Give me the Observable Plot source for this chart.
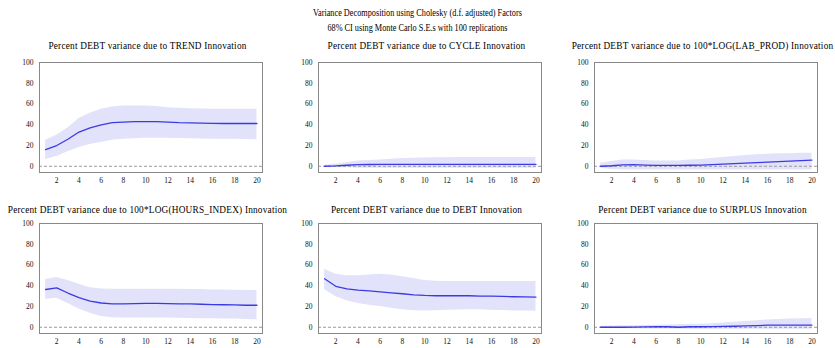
<!DOCTYPE html>
<html>
<head>
<meta charset="utf-8">
<script src="https://cdn.jsdelivr.net/npm/d3@7"></script>
<script src="https://cdn.jsdelivr.net/npm/@observablehq/plot@0.6"></script>
<style>
  html, body { margin: 0; padding: 0; background: #fff; }
  #root { position: relative; width: 835px; height: 348px; overflow: hidden; font-family: "Liberation Serif", "DejaVu Serif", serif; color: #000; }
  .title { position: absolute; left: 0; width: 835px; text-align: center; font-size: 9.4px; white-space: nowrap; transform: scaleX(0.88); transform-origin: 417px 0; }
  .ptitle { position: absolute; white-space: nowrap; font-size: 9.3px; transform: translateX(-50%); letter-spacing: 0.2px; }
  .panel { position: absolute; }
</style>
</head>
<body>
<div id="root"></div>
<script>
const periods = [1,2,3,4,5,6,7,8,9,10,11,12,13,14,15,16,17,18,19,20];
const yTicks = [0,20,40,60,80,100];
const xTicks = [2,4,6,8,10,12,14,16,18,20];

const titles = [
  "Percent DEBT variance due to TREND Innovation",
  "Percent DEBT variance due to CYCLE Innovation",
  "Percent DEBT variance due to 100*LOG(LAB_PROD) Innovation",
  "Percent DEBT variance due to 100*LOG(HOURS_INDEX) Innovation",
  "Percent DEBT variance due to DEBT Innovation",
  "Percent DEBT variance due to SURPLUS Innovation"
];

const trend   = [16,20,26,33,37,40,42,42.5,43,43,43,42.5,42,41.8,41.5,41.3,41.2,41.2,41.2,41.2];
const trendHi = [25,30,37,46,51,55,57,58,58,58,57.5,56.5,56,55.5,55.2,55,55,55,55,55];
const trendLo = [6.5,9.5,14,18,21,23,25,26,26.5,27,27,27,26.8,26.5,26.3,26,26,26,25.8,25.5];

const cycle   = [0,0.3,1,1.5,1.7,1.8,1.8,1.8,1.8,1.8,1.8,1.8,1.8,1.8,1.8,1.8,1.8,1.8,1.8,1.8];
const cycleHi = [1,2,3.5,5,5.5,6,6.8,7.5,7.8,8,8.2,8.3,8.4,8.5,8.5,8.5,8.5,8.5,8.5,8.5];
const cycleLo = [-1,-1.3,-1.5,-1.8,-2,-2,-2,-2,-2,-2,-2,-2,-2,-2,-2,-2,-2,-2,-2,-2];

const labProd   = [0,0.5,1.3,1.5,1.1,0.8,0.8,0.8,1,1.2,1.5,2,2.5,3,3.5,4,4.5,5,5.5,6];
const labProdHi = [3,4.5,6,6,5.5,5,5,5.2,6,6.5,7.5,8.5,9.5,10.5,11,11.5,12,12,12.5,12.5];
const labProdLo = [-2,-3,-3.5,-3.5,-3.5,-3.5,-3.5,-3.5,-3.5,-3.5,-3.5,-3.5,-3.5,-3.5,-3.5,-3.5,-3.5,-3.5,-3.5,-3.5];

const hours   = [36.4,38,33,28.5,25.3,23.4,22.5,22.5,22.8,23,23,22.8,22.5,22.5,22.2,21.8,21.7,21.5,21.2,21.2];
const hoursHi = [46,48,45,41.5,38,37,36.7,36.7,36.7,36.7,36.7,36.7,36.6,36.5,36.3,36,35.8,35.7,35.5,35.5];
const hoursLo = [27,28,23,17.7,13.6,10.4,9.2,8.9,8.9,8.9,8.9,8.9,8.7,8.5,8.3,8.2,8,7.9,7.6,7.3];

const debt   = [46.8,39.5,37,35.8,35,34.2,33.2,32.3,31.3,30.7,30.4,30.4,30.4,30.4,30,30,29.7,29.4,29.3,29];
const debtHi = [56,51,49.7,49.7,50.3,51,50.3,48.7,47,45,44.3,44,44,44,44,44,44,44,44,44];
const debtLo = [36.4,29.4,25.6,23,21.2,20,18.4,16.8,16,15.8,16,16.5,16.7,16.8,16.8,16.5,16.2,15.8,15.6,15.5];

const surplus   = [0,0,0,0.2,0.3,0.6,0.5,0,0.5,0.5,0.6,0.8,1,1.3,1.6,2,2,2,2,2];
const surplusHi = [1,1.2,1.4,1.5,1.8,2,2.2,2.5,2.8,3,3.5,4,4.8,5.5,6.3,7,7.5,8,8.3,8.5];
const surplusLo = [-1,-1.2,-1.4,-1.5,-1.6,-1.6,-1.7,-2,-1.8,-1.8,-1.8,-1.8,-1.8,-1.8,-1.8,-1.8,-1.8,-1.8,-1.8,-1.8];

const series = [
  [trend, trendLo, trendHi],
  [cycle, cycleLo, cycleHi],
  [labProd, labProdLo, labProdHi],
  [hours, hoursLo, hoursHi],
  [debt, debtLo, debtHi],
  [surplus, surplusLo, surplusHi]
];

const root = document.getElementById("root");

function addDiv(cls, text, style) {
  const d = document.createElement("div");
  d.className = cls;
  d.textContent = text;
  Object.assign(d.style, style);
  root.appendChild(d);
  return d;
}

addDiv("title", "Variance Decomposition using Cholesky (d.f. adjusted) Factors", {top: "8px"});
addDiv("title", "68% CI using Monte Carlo S.E.s with 100 replications", {top: "23px"});

const colLeft = [0, 279, 555];
const rowTop = [58, 219];
const titleTop = [41, 205];
const mL = 39, mR = 8, mT = 4, mB = 16, W = 270, H = 130;

series.forEach(([v, lo, hi], i) => {
  const r = Math.floor(i / 3), c = i % 3;
  const data = periods.map((p, k) => ({p, v: v[k], lo: lo[k], hi: hi[k]}));
  const chart = Plot.plot({
    width: W, height: H,
    marginLeft: mL, marginRight: mR, marginTop: mT, marginBottom: mB,
    style: {fontFamily: '"Liberation Serif", serif', fontSize: "7.5px", color: "#111", background: "transparent", overflow: "visible"},
    x: {domain: [0.45, 20.5], ticks: xTicks, tickSize: 0, tickPadding: 5, label: null},
    y: {domain: [-6, 100], ticks: yTicks, tickSize: 0, tickPadding: 6, label: null},
    marks: [
      Plot.areaY(data, {x: "p", y1: "lo", y2: "hi", fill: "#e2e2fb"}),
      Plot.ruleY([0], {stroke: "#9a9a9a", strokeDasharray: "3,2", strokeWidth: 1}),
      Plot.lineY(data, {x: "p", y: "v", stroke: "#3b3be3", strokeWidth: 1.3}),
      Plot.frame({stroke: "#888", strokeWidth: 1})
    ]
  });
  chart.classList.add("panel");
  chart.style.left = colLeft[c] + "px";
  chart.style.top = rowTop[r] + "px";
  chart.style.position = "absolute";
  root.appendChild(chart);
  addDiv("ptitle", titles[i], {left: (colLeft[c] + mL + (W - mL - mR) / 2 - 3) + "px", top: titleTop[r] + "px"});
});
</script>
</body>
</html>
